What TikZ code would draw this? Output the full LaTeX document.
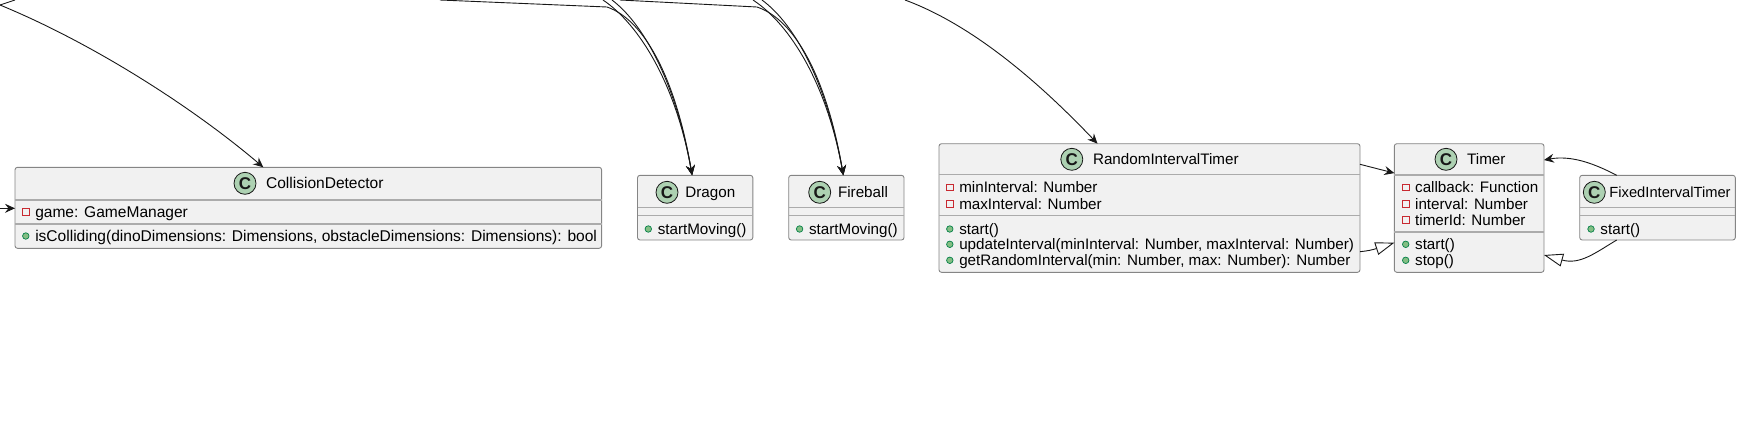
\documentclass[tikz,border=0pt]{standalone}
\usepackage{fontspec}
\setmainfont{Liberation Sans}
\usetikzlibrary{arrows.meta}

\definecolor{boxfill}{HTML}{F1F1F1}
\definecolor{boxline}{HTML}{858585}
\definecolor{sepline}{HTML}{ABABAB}
\definecolor{spotfill}{HTML}{ADD1B2}
\definecolor{inkline}{HTML}{181818}
\definecolor{privred}{HTML}{C82930}
\definecolor{pubfill}{HTML}{84BE84}
\definecolor{publine}{HTML}{038048}

\newcommand{\pubitem}[4]{\node[pub mark] (#1 mark) at (#2-9,#3) {}; \node[member] (#1) at (#2,#3) {#4};}
\newcommand{\privitem}[4]{\node[priv mark] (#1 mark) at (#2-9,#3) {}; \node[member] (#1) at (#2,#3) {#4};}
\newcommand{\classsep}[2]{\draw[sep] (#1.west |- 0,#2) -- (#1.east |- 0,#2);}
\newcommand{\widertext}{\fontsize{15.55}{17}\selectfont}
\newcommand{\narrowtext}{\fontsize{14.7}{17}\selectfont}

\begin{document}
\begin{tikzpicture}[x=1pt,y=-1pt,>={Stealth[length=10pt,width=9pt,inset=3.5pt]},
        line width=0.9pt,inkline,
        class box/.style={draw=boxline,fill=boxfill,rounded corners=2.5pt,anchor=north west,inner sep=0pt,outer sep=0pt},
        sep/.style={draw=sepline,line width=1.3pt},
        spot/.style={circle,draw=inkline,fill=spotfill,line width=0.8pt,minimum size=22pt,inner sep=0pt,font=\fontsize{17}{18}\selectfont\bfseries},
        member/.style={anchor=west,inner sep=0pt,text height=12.5pt,text depth=1.5pt,text=black,font=\fontsize{15.2}{17}\selectfont},
        priv mark/.style={draw=privred,fill=boxfill,line width=0.9pt,minimum size=6.5pt,inner sep=0pt},
        pub mark/.style={circle,draw=publine,fill=pubfill,line width=0.7pt,minimum size=6.5pt,inner sep=0pt},
        open tip/.style={-{Triangle[open,length=19pt,width=13pt,fill=white]}}]

        \useasboundingbox (0,0) rectangle (1747,421);

        % boxes
        \node[class box,minimum width=586.6pt,minimum height=81pt] (coll) at (15,167.3) {};
        \node[class box,minimum width=115.3pt,minimum height=64.7pt] (dragon) at (637.5,175.3) {};
        \node[class box,minimum width=115.3pt,minimum height=64.7pt] (fireball) at (788.7,175.3) {};
        \node[class box,minimum width=421pt,minimum height=128.6pt] (random) at (939,143.7) {};
        \node[class box,minimum width=149.7pt,minimum height=128.6pt] (timer) at (1394.3,143.7) {};
        \node[class box,minimum width=155.6pt,minimum height=64.7pt] (fixed) at (1579.7,175.3) {};

        \classsep{coll}{200} \classsep{coll}{224}
        \classsep{dragon}{207.7} \classsep{dragon}{215.3}
        \classsep{fireball}{207.7} \classsep{fireball}{215.3}
        \classsep{random}{174.7} \classsep{random}{215.7}
        \classsep{timer}{175} \classsep{timer}{232}
        \classsep{fixed}{207.7} \classsep{fixed}{215.3}

        % class names
        \node[spot] (coll spot) at (245,183.3) {C};
        \node[member] (coll name) at (265.6,183.3) {\widertext CollisionDetector};
        \node[spot] (dragon spot) at (667,192.3) {C};
        \node[member] (dragon name) at (685,192.3) {Dragon};
        \node[spot] (fireball spot) at (819.7,192.3) {C};
        \node[member] (fireball name) at (837.6,192.3) {Fireball};
        \node[spot] (random spot) at (1071.8,159.3) {C};
        \node[member] (random name) at (1092.6,159.3) {RandomIntervalTimer};
        \node[spot] (timer spot) at (1446,159.3) {C};
        \node[member] (timer name) at (1466.7,159.3) {Timer};
        \node[spot] (fixed spot) at (1594.3,192.3) {C};
        \node[member] (fixed name) at (1609,192.3) {\narrowtext FixedIntervalTimer};

        % members
        \privitem{coll a}{34.8}{212}{\widertext game: GameManager}
        \pubitem{coll b}{34.8}{236}{\widertext isColliding(dinoDimensions: Dimensions, obstacleDimensions: Dimensions): bool}
        \pubitem{dragon a}{657.3}{229}{startMoving()}
        \pubitem{fireball a}{808.6}{229}{startMoving()}
        \privitem{random a}{958.8}{187.3}{minInterval: Number}
        \privitem{random b}{958.8}{204}{maxInterval: Number}
        \pubitem{random c}{958.8}{229}{start()}
        \pubitem{random d}{958.8}{244.3}{updateInterval(minInterval: Number, maxInterval: Number)}
        \pubitem{random e}{958.8}{260.3}{getRandomInterval(min: Number, max: Number): Number}
        \privitem{timer a}{1414.7}{187.3}{callback: Function}
        \privitem{timer b}{1414.7}{204}{interval: Number}
        \privitem{timer c}{1414.7}{220}{timerId: Number}
        \pubitem{timer d}{1414.7}{244.3}{start()}
        \pubitem{timer e}{1414.7}{260.3}{stop()}
        \pubitem{fixed a}{1600}{229}{start()}

        % free ends of the connectors
        \coordinate (west in) at (0,208.3);
        \coordinate (top a) at (0,5);
        \coordinate (top b) at (15,0);
        \coordinate (top c) at (440,0);
        \coordinate (top d) at (603,0);
        \coordinate (top e) at (612,0);
        \coordinate (top f) at (620,0);
        \coordinate (top g) at (753,0);
        \coordinate (top h) at (762,0);
        \coordinate (top i) at (905,0);

        \draw[->] (west in) -- (coll.west |- west in);
        \draw (top b) -- (top a);
        \draw[->] (top a) .. controls (90,42) and (190,105) .. ([xshift=-45pt]coll.north);

        \draw[->] (top c) -- (607,7) .. controls (645,20) and (676,80) .. ([xshift=-3pt]dragon.north);
        \draw[->] (top d) .. controls (640,25) and (676,85) .. ([xshift=-3pt]dragon.north);
        \draw[->] (top e) .. controls (645,25) and (676,85) .. ([xshift=-3pt]dragon.north);

        \draw[->] (top f) -- (757,7) .. controls (796,20) and (827,80) .. ([xshift=-3pt]fireball.north);
        \draw[->] (top g) .. controls (791,25) and (827,85) .. ([xshift=-3pt]fireball.north);
        \draw[->] (top h) .. controls (796,25) and (827,85) .. ([xshift=-3pt]fireball.north);

        \draw[->] (top i) .. controls (970,24) and (1035,78) .. ([xshift=-52pt]random.north);

        \draw[->] ([yshift=-20.6pt]random.north east) -- ([yshift=-29.4pt]timer.north west);
        \draw[open tip] ([yshift=-108pt]random.north east) .. controls (1367,251) and (1372,250) .. ([yshift=-99pt]timer.north west);
        \draw[->] (fixed.north -| 1616.7,0) .. controls (1595,164) and (1572,155) .. ([yshift=-16.3pt]timer.north east);
        \draw[open tip] (fixed.south -| 1616.7,0) .. controls (1595,253) and (1580,265) .. ([yshift=-111.3pt]timer.north east);
      \end{tikzpicture}
\end{document}
